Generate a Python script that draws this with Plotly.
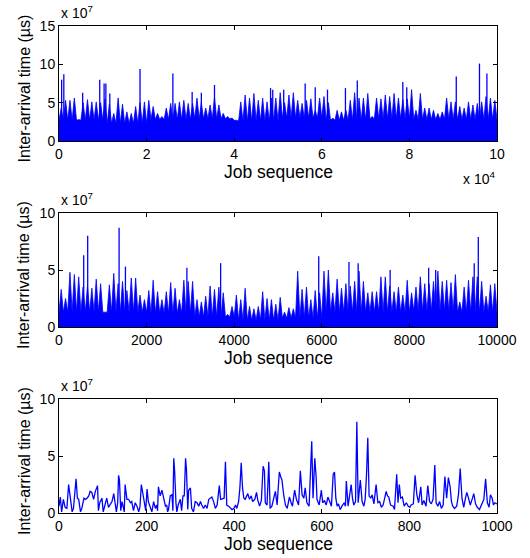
import plotly.graph_objects as go

# ---------------- data (values in units of 1e7 microseconds) ----------------
# Panel 1: 100,000 jobs; spike-top level per 1000-job block
p1_block_jobs = 1000
p1_levels = [4.3, 5.3, 5.3, 5.6, 2.8, 5.0, 5.4, 5.1, 5.1, 5.0,
             5.5, 4.8, 3.6, 5.6, 4.8, 3.8, 3.6, 4.5, 5.0, 5.1,
             5.3, 4.5, 3.6, 3.2, 4.3, 4.9, 4.9, 5.1, 5.3, 4.9,
             4.9, 5.6, 5.0, 4.3, 4.7, 5.7, 4.7, 3.6, 3.2, 3.0,
             2.7, 5.1, 6.0, 5.6, 6.2, 5.3, 5.6, 5.1, 5.6, 5.6,
             6.3, 5.0, 6.0, 6.3, 5.3, 4.9, 5.3, 5.5, 4.0, 5.6,
             5.8, 5.0, 3.0, 4.0, 3.8, 4.0, 5.3, 6.3, 5.6, 5.6,
             6.2, 3.2, 5.6, 5.5, 6.0, 5.8, 6.2, 5.6, 5.4, 5.5,
             6.7, 4.0, 6.2, 4.3, 4.3, 4.0, 3.6, 3.8, 5.6, 5.1,
             5.1, 4.5, 4.3, 5.1, 4.7, 4.9, 5.1, 5.8, 5.6, 5.3]
# solid (always-covered) level per 10,000 jobs
p1_floor = [2.7, 2.3, 2.8, 2.9, 2.6, 3.0, 2.7, 2.9, 2.8, 2.8]
p1_spike_jobs = [600, 1100, 5400, 9300, 10300, 10700, 11600, 18500, 26000, 30400,
                 32500, 35500, 48300, 48800, 51300, 56200, 58500, 61300, 65400, 68100,
                 78500, 79400, 90700, 96000, 97700]
p1_spike_vals = [8.0, 8.7, 6.3, 8.0, 7.5, 7.5, 6.2, 9.4, 8.8, 6.4,
                 6.3, 7.3, 6.9, 6.7, 6.7, 7.5, 7.0, 6.7, 6.9, 7.9,
                 7.7, 7.0, 8.4, 10.1, 8.8]

# Panel 2: 10,000 jobs; spike-top level per 100-job block
p2_block_jobs = 100
p2_levels = [3.3, 2.5, 4.8, 4.6, 4.4, 3.5, 3.6, 3.4, 4.2, 3.8,
             1.3, 3.7, 4.7, 3.8, 4.0, 3.2, 4.3, 4.3, 2.8, 2.4,
             3.2, 4.1, 3.1, 2.4, 3.1, 3.9, 3.4, 2.4, 4.1, 4.0,
             4.0, 2.4, 2.2, 2.7, 3.6, 3.3, 3.5, 3.0, 1.1, 1.8,
             2.8, 2.4, 3.4, 1.8, 1.6, 1.8, 3.1, 2.5, 2.4, 2.0,
             2.6, 1.3, 1.7, 1.6, 4.9, 3.3, 3.5, 2.4, 3.2, 3.0,
             4.9, 5.0, 3.0, 4.2, 3.4, 3.8, 3.6, 4.0, 4.9, 4.0,
             3.0, 3.1, 3.1, 4.4, 4.4, 3.6, 3.1, 3.5, 2.8, 4.1,
             3.0, 3.5, 4.4, 3.8, 3.8, 4.0, 4.9, 4.0, 4.1, 3.9,
             4.6, 2.2, 3.5, 4.1, 4.4, 4.4, 4.0, 2.7, 3.7, 3.8]
# solid level per 1000 jobs
p2_floor = [1.3, 1.3, 1.2, 0.9, 0.6, 0.8, 1.3, 1.3, 1.4, 1.3]
p2_spike_jobs = [564, 655, 1372, 1517, 2920, 3690, 5930, 6620, 6830, 7560,
                 8440, 8600, 9480, 9573]
p2_spike_vals = [6.3, 8.0, 8.7, 5.3, 5.2, 5.6, 6.2, 5.7, 5.6, 5.0,
                 5.2, 5.0, 5.6, 7.9]

# Panel 3: first 1000 jobs
p3_jobs = [0, 3, 6, 10, 14, 18, 22, 26, 30, 33, 39, 42, 45, 49, 52, 57, 60, 64, 68, 71,
           75, 79, 83, 88, 90, 93, 98, 101, 104, 109, 113, 117, 121, 125, 128, 131, 134, 136, 138, 141,
           144, 147, 149, 151, 155, 159, 163, 166, 170, 174, 178, 182, 185, 188, 192, 195, 198, 201, 204, 208,
           212, 216, 220, 223, 225, 227, 231, 235, 239, 243, 246, 248, 250, 254, 258, 260, 262, 264, 267, 269,
           272, 277, 280, 283, 286, 289, 291, 294, 296, 300, 303, 307, 311, 315, 319,
           323, 326, 330, 334, 338, 342, 345, 349, 353, 357, 361, 366, 369, 374, 377, 380, 383, 387, 391, 395,
           399, 403, 406, 410, 413, 416, 419, 422, 425, 429, 431, 435, 439, 442, 447, 451, 454, 458, 462, 466,
           469, 471, 475, 479, 482, 486, 490, 494, 498, 503, 506, 509, 513, 517, 521, 526, 530, 533, 538, 542,
           547, 551, 555, 559, 562, 566, 571, 577, 580, 584, 587, 589, 594, 599, 602, 606, 610, 614, 618, 622,
           626, 629, 632, 635, 638, 642, 646, 651, 654,
           656, 660, 663, 667, 670, 673, 677, 680, 683, 688, 692, 696, 699, 702, 705, 708, 712, 715, 719, 724,
           728, 732, 736, 740, 747, 750, 753, 757, 763, 766, 771, 774, 777, 780, 784, 788, 793, 797, 801, 804,
           809, 813, 817, 821, 826, 829, 833, 838, 842, 846, 850, 854, 858, 861, 865, 869, 873, 877, 881, 885,
           889, 893, 896, 899, 903, 908, 912, 916, 920, 924, 928, 931, 935, 939, 944, 947, 951, 955, 960, 966,
           970, 974, 978, 982, 985, 989, 992, 995, 1000]
p3_vals = [0.6, 1.4, 0.1, 1.2, 0.5, 0.4, 2.5, 1.0, 0.1, 0.4, 3.0, 1.3, 1.2, 0.1, 0.4, 1.3, 1.2, 1.3, 1.5, 1.9,
           1.8, 1.2, 1.9, 2.4, 0.2, 0.9, 1.3, 0.1, 0.6, 1.3, 0.5, 0.7, 1.0, 1.7, 0.7, 0.1, 0.9, 3.3, 2.9, 0.2,
           1.0, 0.5, 0.1, 2.5, 1.2, 1.2, 0.9, 1.0, 0.2, 0.9, 0.6, 0.1, 0.6, 2.5, 1.3, 0.9, 0.2, 2.1, 1.0, 0.6,
           0.1, 1.0, 0.4, 0.7, 0.2, 2.3, 1.5, 2.0, 1.2, 0.6, 0.7, 0.1, 0.3, 1.5, 1.6, 0.2, 4.8, 3.7, 0.9, 0.1,
           0.7, 1.2, 0.2, 1.5, 1.5, 4.8, 3.8, 0.3, 2.0, 2.2, 0.4, 0.1, 1.0, 0.9, 0.6,
           1.0, 0.7, 0.4, 0.7, 0.4, 1.2, 1.3, 1.4, 1.0, 0.4, 0.7, 2.4, 1.2, 1.3, 1.3, 4.5, 0.7, 0.6, 0.4, 0.3,
           0.4, 0.7, 0.4, 1.0, 2.2, 4.4, 2.2, 1.3, 1.2, 1.5, 1.7, 1.2, 1.5, 1.0, 1.2, 1.8, 1.1, 0.6, 1.1, 4.1,
           3.7, 0.9, 0.7, 4.5, 0.4, 0.6, 1.3, 1.9, 0.7, 3.6, 3.2, 2.9, 1.6, 0.7, 0.4, 1.4, 0.9, 0.6, 2.0, 1.2,
           0.7, 3.7, 1.6, 1.3, 2.2, 0.9, 0.6, 6.3, 1.3, 4.8, 3.2, 1.2, 0.7, 2.0, 0.9, 1.1, 0.7, 1.4, 1.0, 0.6,
           3.4, 3.6, 1.3, 0.6, 0.8, 0.3, 0.6, 0.9, 0.6,
           2.8, 0.6, 1.6, 2.5, 1.3, 0.7, 1.0, 8.0, 0.9, 2.9, 1.0, 0.6, 1.2, 3.3, 6.6, 1.5, 1.3, 1.6, 0.8, 2.5,
           0.9, 1.0, 0.5, 0.7, 1.9, 1.5, 1.4, 0.7, 0.6, 0.3, 3.4, 0.9, 2.5, 1.3, 1.4, 0.6, 0.9, 0.6, 0.5, 0.7,
           0.8, 3.3, 1.6, 0.9, 2.3, 0.7, 1.1, 0.6, 2.4, 1.0, 0.8, 1.2, 4.2, 0.9, 0.6, 1.0, 0.4, 0.7, 3.2, 1.3,
           3.1, 2.3, 1.0, 0.6, 0.4, 0.6, 1.6, 3.9, 1.3, 0.5, 1.3, 1.8, 1.3, 0.7, 1.3, 1.7, 0.8, 0.5, 0.3, 0.8,
           1.2, 3.0, 0.9, 0.5, 1.6, 1.3, 0.7, 0.9, 0.8]

# Tick labels
p1_xticks = [0, 20000, 40000, 60000, 80000, 100000]
p1_xticklabels = ["0", "2", "4", "6", "8", "10"]
p2_xticks = [0, 2000, 4000, 6000, 8000, 10000]
p3_xticks = [0, 200, 400, 600, 800, 1000]
p1_yticks = [0, 5, 10, 15]
p23_yticks = [0, 5, 10]

# ---------------- figure ----------------
BLUE = "#0000ff"
W, H = 530, 558


def sawtooth(levels, floor, block):
    """Peaks at each block centre (block top level), troughs between blocks at the solid level."""
    per_floor = len(levels) // len(floor)
    xs, ys = [0], [min(floor[0], levels[0])]
    for i, v in enumerate(levels):
        f = floor[i // per_floor]
        nxt = levels[i + 1] if i + 1 < len(levels) else v
        xs += [block * i + block / 2, block * (i + 1)]
        ys += [v, min(f, v, nxt)]
    return xs, ys


def spikes(xs, vs):
    sx, sy = [], []
    for x, v in zip(xs, vs):
        sx += [x, x, None]
        sy += [0, v, None]
    return sx, sy


fig = go.Figure()

x, y = sawtooth(p1_levels, p1_floor, p1_block_jobs)
fig.add_trace(go.Scatter(x=x, y=y, mode="lines", line=dict(color=BLUE, width=0.8),
                         fill="tozeroy", fillcolor=BLUE, xaxis="x", yaxis="y"))
sx, sy = spikes(p1_spike_jobs, p1_spike_vals)
fig.add_trace(go.Scatter(x=sx, y=sy, mode="lines", line=dict(color=BLUE, width=1.3),
                         xaxis="x", yaxis="y"))

x, y = sawtooth(p2_levels, p2_floor, p2_block_jobs)
fig.add_trace(go.Scatter(x=x, y=y, mode="lines", line=dict(color=BLUE, width=0.8),
                         fill="tozeroy", fillcolor=BLUE, xaxis="x2", yaxis="y2"))
sx, sy = spikes(p2_spike_jobs, p2_spike_vals)
fig.add_trace(go.Scatter(x=sx, y=sy, mode="lines", line=dict(color=BLUE, width=1.3),
                         xaxis="x2", yaxis="y2"))

fig.add_trace(go.Scatter(x=p3_jobs, y=p3_vals, mode="lines", line=dict(color=BLUE, width=1.3),
                         xaxis="x3", yaxis="y3"))

FONT = "Liberation Sans, Arial, Helvetica, sans-serif"
x0, x1 = 59 / W, 497 / W
panels = [(26, 141), (213, 327), (399, 513)]
doms = [[1 - b / H, 1 - t / H] for t, b in panels]

axis_common = dict(showline=True, linecolor="black", linewidth=1, mirror="ticks",
                   ticks="inside", ticklen=4, tickcolor="black", tickwidth=1,
                   showgrid=False, zeroline=False, automargin=False,
                   tickfont=dict(family=FONT, size=14, color="black"))

fig.update_layout(
    width=W, height=H, autosize=False,
    margin=dict(l=0, r=0, t=0, b=0, pad=0, autoexpand=False),
    paper_bgcolor="white", plot_bgcolor="white", showlegend=False,
    font=dict(family=FONT, color="black"),
    xaxis=dict(domain=[x0, x1], anchor="y", range=[0, 100000], tickvals=p1_xticks,
               ticktext=p1_xticklabels, **axis_common),
    yaxis=dict(domain=doms[0], anchor="x", range=[0, 15], tickvals=p1_yticks, **axis_common),
    xaxis2=dict(domain=[x0, x1], anchor="y2", range=[0, 10000], tickvals=p2_xticks,
                ticktext=[str(v) for v in p2_xticks], **axis_common),
    yaxis2=dict(domain=doms[1], anchor="x2", range=[0, 10], tickvals=p23_yticks, **axis_common),
    xaxis3=dict(domain=[x0, x1], anchor="y3", range=[0, 1000], tickvals=p3_xticks,
                ticktext=[str(v) for v in p3_xticks], **axis_common),
    yaxis3=dict(domain=doms[2], anchor="x3", range=[0, 10], tickvals=p23_yticks, **axis_common),
)

ann = []
for (t, b), xc in zip(panels, [172, 358, 544]):
    ann.append(dict(text="x 10<sup>7</sup>", x=x0, y=1 - (t - 3) / H, xref="paper", yref="paper",
                    xanchor="left", yanchor="bottom", showarrow=False,
                    font=dict(family=FONT, size=14, color="black")))
    ann.append(dict(text="Inter-arrival time (\u00b5s)", x=24 / W, y=1 - ((t + b) / 2 + 5) / H,
                    xref="paper", yref="paper", xanchor="center", yanchor="middle",
                    textangle=-90, showarrow=False,
                    font=dict(family=FONT, size=16, color="black")))
    ann.append(dict(text="Job sequence", x=(x0 + x1) / 2, y=1 - xc / H, xref="paper",
                    yref="paper", xanchor="center", yanchor="middle", showarrow=False,
                    font=dict(family=FONT, size=17.5, color="black")))
ann.append(dict(text="x 10<sup>4</sup>", x=x1, y=1 - 189 / H, xref="paper", yref="paper",
                xanchor="right", yanchor="bottom", showarrow=False,
                font=dict(family=FONT, size=14, color="black")))
fig.update_layout(annotations=ann)

fig.write_html("out.html",
               config={"displayModeBar": False, "responsive": False},
               default_width=f"{W}px", default_height=f"{H}px",
               post_script="document.body.style.margin='0';document.body.style.overflow='hidden';")
